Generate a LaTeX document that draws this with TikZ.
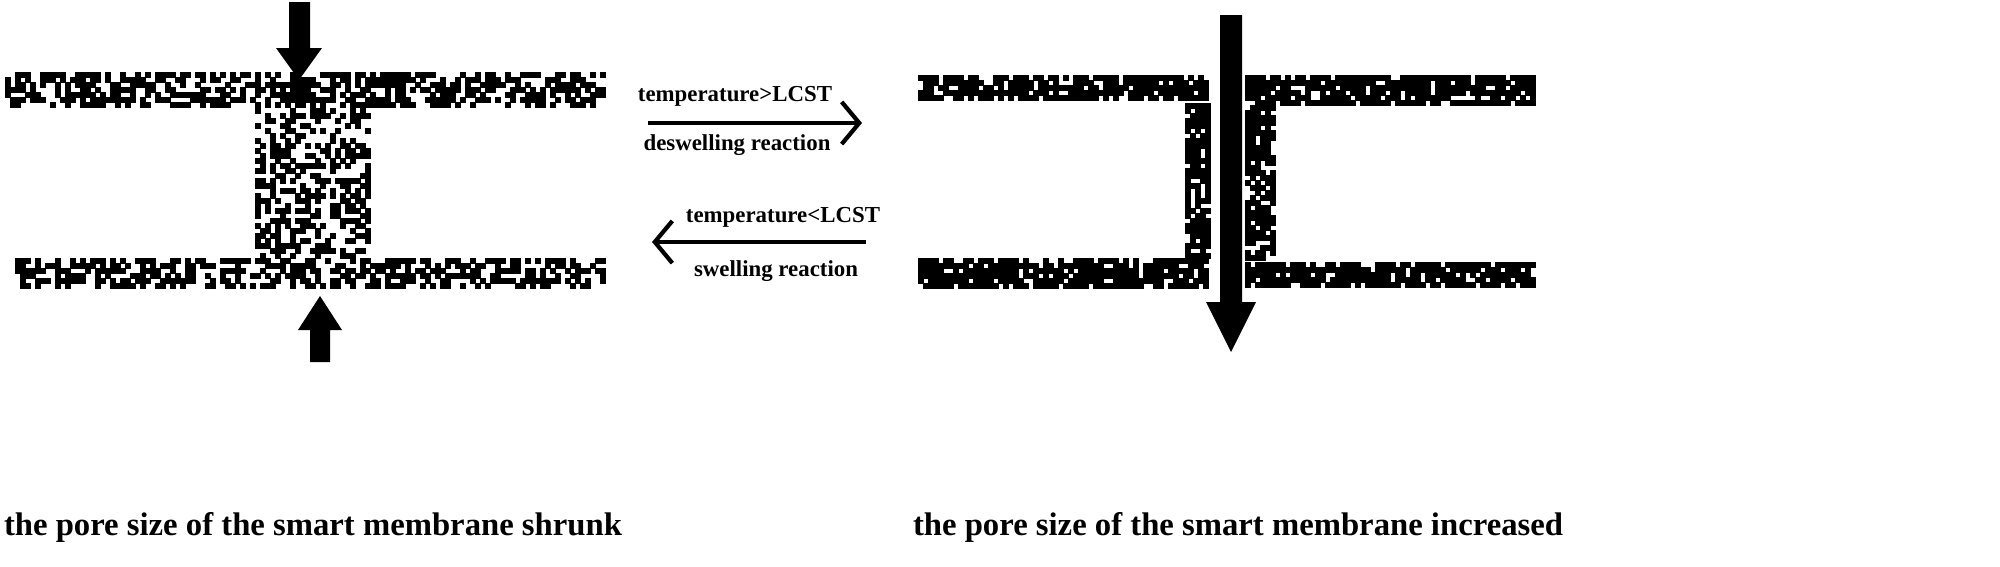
\documentclass[tikz,border=0pt]{standalone}
\usepackage{fontspec}
\setmainfont{Liberation Serif}
\usetikzlibrary{arrows.meta}
\newcommand\speck[5]{%
 \pgfmathtruncatemacro\nxx{(#3-#1)/5-1}%
 \pgfmathtruncatemacro\nyy{(#4-#2)/5-1}%
 \foreach \i in {0,...,\nxx}{\foreach \j in {0,...,\nyy}{%
   \pgfmathtruncatemacro\rr{rnd<#5?1:0}%
   \ifnum\rr=1 \fill (#1+5*\i,#2+5*\j) rectangle ++(5.6,5.6);\fi}}}
\begin{document}
\begin{tikzpicture}[x=0.01cm,y=-0.01cm,
  lbl/.style={font=\bfseries\fontsize{6.5}{7}\selectfont,inner sep=0pt},
  captxt/.style={font=\bfseries\fontsize{9.3}{11}\selectfont,inner sep=0pt},
  rx/.style={line width=1.2pt,-{Straight Barb[length=5pt,width=12pt,line width=1.2pt]}}]
\pgfmathsetseed{7}
% left membrane
\speck{5}{72}{605}{108}{0.55}
\speck{15}{258}{605}{292}{0.55}
\speck{255}{108}{370}{258}{0.45}
% right membrane
\speck{918}{75}{1210}{103}{0.8}
\speck{1245}{75}{1535}{105}{0.8}
\speck{1185}{103}{1210}{258}{0.75}
\speck{1245}{105}{1275}{262}{0.75}
\speck{918}{258}{1210}{290}{0.8}
\speck{1245}{262}{1535}{290}{0.8}
% thick arrows
\fill (289,2) -- (310,2) -- (310,48) -- (322,48) -- (299,80) -- (276,48) -- (289,48) -- cycle;
\fill (310,362) -- (330,362) -- (330,330) -- (342,330) -- (320,296) -- (298,330) -- (310,330) -- cycle;
\fill (1220,15) -- (1242,15) -- (1242,302) -- (1256,302) -- (1231,352) -- (1206,302) -- (1220,302) -- cycle;
% reaction arrows
\coordinate (a1) at (648,123); \coordinate (b1) at (862,123);
\coordinate (a2) at (866,242); \coordinate (b2) at (652,242);
\draw[rx] (a1) -- (b1);
\draw[rx] (a2) -- (b2);
\node[lbl] (t1) at (735,96) {temperature>LCST};
\node[lbl] (d1) at (737,145) {deswelling reaction};
\node[lbl] (t2) at (783,217) {temperature<LCST};
\node[lbl] (d2) at (776,271) {swelling reaction};
\node[captxt] (c1) at (313,527) {the pore size of the smart membrane shrunk};
\node[captxt] (c2) at (1238,527) {the pore size of the smart membrane increased};
\pgfresetboundingbox
\useasboundingbox (0,0) rectangle (2000,566);
\end{tikzpicture}
\end{document}
